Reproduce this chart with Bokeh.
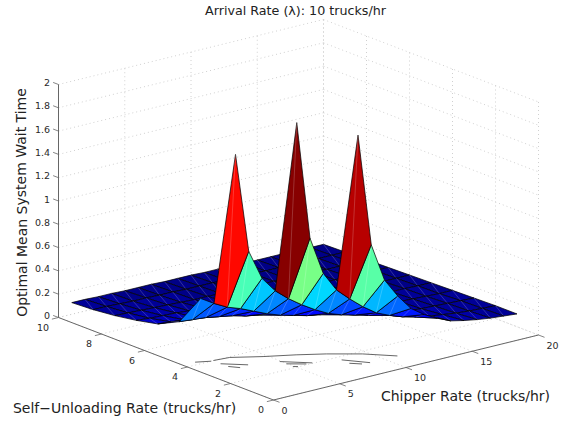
from bokeh.plotting import figure
from bokeh.models import Range1d
from bokeh.core.properties import value
from bokeh.embed import file_html
from bokeh.resources import INLINE
import math

NA = float("nan")
chipper_rates = list(range(1, 21))
self_rates = list(range(1, 11))

wait_y1 = [NA, NA, NA, NA, NA, NA, NA, 1.98, 1.01, .68, .515, .38, .30, .24, .19, .165, .145, .13, .12, .11]
wait_y2 = [NA, NA, NA, NA, 2.1, 1.08, .75, .58, .475, .38, .30, .25, .21, .18, .16, .145, .13, .12, .115, .11]
wait_y3 = [NA, 1.84, .98, .72, .585, .49, .41, .34, .28, .24, .21, .18, .16, .145, .135, .125, .12, .115, .11, .105]
wait_y4 = [.56, .49, .43, .39, .34, .29, .25, .22, .19, .17, .155, .14, .13, .125, .12, .115, .11, .105, .10, .10]
wait_y5 = [.29, .28, .27, .25, .23, .20, .18, .165, .15, .14, .13, .125, .12, .115, .11, .105, .10, .10, .095, .095]
wait_y6 = [.20, .19, .18, .17, .16, .15, .14, .13, .125, .12, .115, .11, .105, .10, .10, .095, .095, .09, .09, .09]
wait_y7 = [.16, .15, .145, .14, .13, .125, .12, .115, .11, .105, .10, .10, .095, .095, .09, .09, .09, .085, .085, .085]
wait_y8 = [.13, .125, .12, .115, .11, .105, .10, .10, .095, .095, .09, .09, .09, .085, .085, .085, .08, .08, .08, .08]
wait_y9 = [.11, .11, .105, .10, .10, .095, .095, .09, .09, .09, .085, .085, .085, .08, .08, .08, .08, .075, .075, .075]
wait_y10 = [.10, .10, .095, .095, .09, .09, .09, .085, .085, .085, .08, .08, .08, .075, .075, .075, .075, .07, .07, .07]
wait = [wait_y1, wait_y2, wait_y3, wait_y4, wait_y5, wait_y6, wait_y7, wait_y8, wait_y9, wait_y10]

chipper_ticks = [0, 5, 10, 15, 20]
self_ticks = [0, 2, 4, 6, 8, 10]
wait_ticks = [0, .2, .4, .6, .8, 1, 1.2, 1.4, 1.6, 1.8, 2]
wait_tick_labels = ["0", "0.2", "0.4", "0.6", "0.8", "1", "1.2", "1.4", "1.6", "1.8", "2"]
chipper_limit = 20
self_limit = 10
wait_limit = 2
title_text = "Arrival Rate (\u03bb): 10 trucks/hr"
xlabel_text = "Chipper Rate (trucks/hr)"
ylabel_text = "Self\u2212Unloading Rate (trucks/hr)"
zlabel_text = "Optimal Mean System Wait Time"

# stray floor-level strokes (chipper, self)
stray_strokes = [
    [(.93, 4.22), (1.78, 4.0)],
    [(1.97, 4.01), (3.09, 3.94), (4.73, 3.4), (6.46, 2.93), (7.96, 2.45), (9.63, 1.79), (10.99, 1.01)],
    [(1.91, 3.64), (3.05, 3.06)],
    [(1.94, 3.3), (2.35, 3.0)],
    [(4.9, 2.73), (6.24, 2.04)],
    [(4.93, 2.44), (5.84, 2.07)],
    [(4.9, 2.12), (5.14, 2.03)],
    [(7.95, 1.73), (8.93, 1.01)],
    [(7.9, 1.34), (8.4, 1.06)],
]


def project(cx, sy, z):
    """Orthographic view: page position of a data point."""
    return (273.0 + 13.25 * cx - 21.5 * sy, 399.5 - 3.25 * cx - 8.25 * sy - 116.5 * z)


def jet(t):
    t = max(0.0, min(1.0, t))
    t = (math.floor(t * 63.999) + 0.5) / 64
    r = min(4 * t - 1.5, -4 * t + 4.5)
    g = min(4 * t - 0.5, -4 * t + 3.5)
    b = min(4 * t + 0.5, -4 * t + 2.5)
    c = [int(round(255 * max(0, min(1, v)))) for v in (r, g, b)]
    return "#%02x%02x%02x" % tuple(c)


W, H = 567, 420
p = figure(width=W, height=H, x_range=Range1d(0, W), y_range=Range1d(H, 0),
           output_backend="svg", toolbar_location=None, min_border=0,
           outline_line_color=None, background_fill_color="white")
p.xaxis.visible = False
p.yaxis.visible = False
p.grid.visible = False

# wall and floor grid
gx, gy = [], []
def seg(a, b):
    pa, pb = project(*a), project(*b)
    gx.append([pa[0], pb[0]])
    gy.append([pa[1], pb[1]])
for c in chipper_ticks:
    seg((c, 0, 0), (c, self_limit, 0))
    seg((c, self_limit, 0), (c, self_limit, wait_limit))
for s in self_ticks:
    seg((0, s, 0), (chipper_limit, s, 0))
    seg((chipper_limit, s, 0), (chipper_limit, s, wait_limit))
for z in wait_ticks:
    seg((0, self_limit, z), (chipper_limit, self_limit, z))
    seg((chipper_limit, self_limit, z), (chipper_limit, 0, z))
p.multi_line(gx, gy, line_color="#d0d0d0", line_width=1, line_dash="1 3")

# stray strokes
for stroke in stray_strokes:
    pts = [project(c, s, 0) for c, s in stroke]
    p.line([q[0] for q in pts], [q[1] for q in pts], line_color="#555555", line_width=0.9)

# surface, back to front; each face takes the colour of its first corner
finite = [v for row in wait for v in row if v == v]
zmin, zmax = min(finite), max(finite)
for i in reversed(range(len(chipper_rates) - 1)):
    for j in reversed(range(len(self_rates) - 1)):
        corners = [(i, j), (i + 1, j), (i + 1, j + 1), (i, j + 1)]
        zs = [wait[b][a] for a, b in corners]
        if any(v != v for v in zs):
            continue
        pts = [project(chipper_rates[a], self_rates[b], wait[b][a]) for a, b in corners]
        p.patch([q[0] for q in pts], [q[1] for q in pts], fill_color=jet((zs[0] - zmin) / (zmax - zmin)),
                line_color="#000000", line_width=0.8, line_alpha=0.9)
        p.line([pts[0][0], pts[2][0]], [pts[0][1], pts[2][1]], line_color="white",
               line_width=0.7, line_alpha=0.28)

# axes
axis_color = "#666666"
for a, b in [((0, 0, 0), (chipper_limit, 0, 0)), ((0, 0, 0), (0, self_limit, 0)),
             ((0, self_limit, 0), (0, self_limit, wait_limit))]:
    pa, pb = project(*a), project(*b)
    p.line([pa[0], pb[0]], [pa[1], pb[1]], line_color=axis_color, line_width=1)

tx, ty = [], []
def tick(a, b):
    pa, pb = project(*a), project(*b)
    tx.append([pa[0], pb[0]])
    ty.append([pa[1], pb[1]])
for c in chipper_ticks:
    tick((c, 0, 0), (c, -0.28, 0))
for s in self_ticks:
    tick((0, s, 0), (-0.5, s, 0))
for z in wait_ticks:
    tick((0, self_limit, z), (0, self_limit + 0.25, z))
p.multi_line(tx, ty, line_color=axis_color, line_width=0.8)

font = value("DejaVu Sans")
tick_col = "#2a2a2a"
tick_size = "9.5px"
pts = [project(c, 0, 0) for c in chipper_ticks]
p.text([q[0] + 8 for q in pts], [q[1] + 10 for q in pts], text=[str(c) for c in chipper_ticks],
       text_align="left", text_baseline="middle", text_font=font, text_font_size=tick_size, text_color=tick_col)
pts = [project(0, s, 0) for s in self_ticks]
p.text([q[0] - 9.5 for q in pts], [q[1] + 9.5 for q in pts], text=[str(s) for s in self_ticks],
       text_align="right", text_baseline="middle", text_font=font, text_font_size=tick_size, text_color=tick_col)
pts = [project(0, self_limit, z) for z in wait_ticks]
p.text([q[0] - 8.5 for q in pts], [q[1] - 2 for q in pts], text=wait_tick_labels,
       text_align="right", text_baseline="middle", text_font=font, text_font_size=tick_size, text_color=tick_col)

label_col = "#222222"
p.text([295], [10], text=[title_text], text_align="center", text_baseline="middle",
       text_font=font, text_font_size="12.7px", text_color=label_col)
p.text([465], [395.5], text=[xlabel_text], text_align="center", text_baseline="middle",
       text_font=font, text_font_size="14px", text_color=label_col)
p.text([124], [407], text=[ylabel_text], text_align="center", text_baseline="middle",
       text_font=font, text_font_size="14px", text_color=label_col)
p.text([21], [202], text=[zlabel_text], angle=[math.pi / 2], text_align="center", text_baseline="middle",
       text_font=font, text_font_size="14px", text_color=label_col)

open("out.html", "w").write(file_html(p, INLINE))
